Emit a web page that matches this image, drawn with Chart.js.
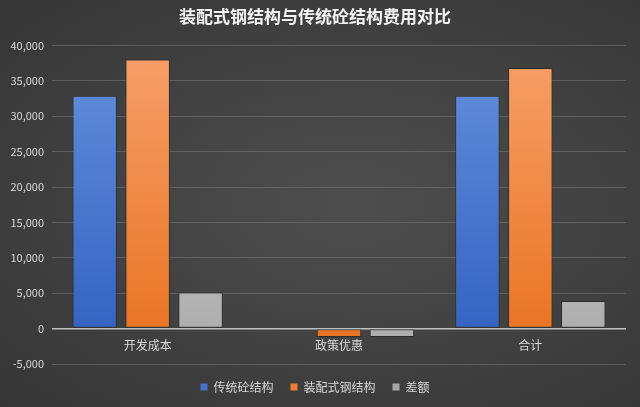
<!DOCTYPE html>
<html>
<head>
<meta charset="utf-8">
<script src="https://cdn.jsdelivr.net/npm/chart.js@4"></script>
<style>
  html, body { margin: 0; padding: 0; }
  body {
    width: 640px; height: 407px; overflow: hidden;
    background: radial-gradient(ellipse at 55% 50%, #4e4e4e 0%, #434343 45%, #353535 100%);
  }
  #chart { display: block; }
</style>
</head>
<body>
<canvas id="chart" width="640" height="407"></canvas>
<script>
const titleText = '装配式钢结构与传统砼结构费用对比';
const categories = ['开发成本', '政策优惠', '合计'];
const seriesNames = ['传统砼结构', '装配式钢结构', '差额'];
const concreteValues = [32900, 0, 32900];
const steelValues = [38000, -1200, 36800];
const diffValues = [5100, -1200, 3900];

const font = '"Microsoft YaHei", "Noto Sans CJK SC", sans-serif';

// vertical gradient over the plot area, lighter at top
function barGradient(top, bottom) {
    return ctx => {
        const area = ctx.chart.chartArea;
        if (!area) return bottom;
        const g = ctx.chart.ctx.createLinearGradient(0, area.top, 0, area.bottom);
        g.addColorStop(0, top);
        g.addColorStop(1, bottom);
        return g;
    };
}

new Chart(document.getElementById('chart'), {
    type: 'bar',
    data: {
        labels: categories,
        datasets: [
            { label: seriesNames[0], data: concreteValues, backgroundColor: barGradient('#6690dc', '#2e5ebf'), legendColor: '#4472c4' },
            { label: seriesNames[1], data: steelValues, backgroundColor: barGradient('#f7a06a', '#e8701c'), legendColor: '#ed7d31' },
            { label: seriesNames[2], data: diffValues, backgroundColor: barGradient('#d2d2d2', '#aaaaaa'), legendColor: '#a5a5a5' }
        ]
    },
    options: {
        responsive: false,
        animation: false,
        devicePixelRatio: 1,
        layout: { padding: { left: 4, right: 14, top: 2, bottom: 4 } },
        datasets: {
            bar: {
                categoryPercentage: 0.83,
                barPercentage: 0.84,
                borderColor: 'rgba(20,20,20,0.45)',
                borderWidth: 1,
                borderSkipped: false
            }
        },
        plugins: {
            title: {
                display: true,
                text: titleText,
                color: '#f2f2f2',
                font: { family: font, size: 17, weight: 'bold' },
                padding: { top: 4, bottom: 19 }
            },
            legend: {
                position: 'bottom',
                labels: {
                    color: '#d9d9d9',
                    font: { family: font, size: 12 },
                    boxWidth: 7,
                    boxHeight: 7,
                    padding: 17,
                    generateLabels: chart => chart.data.datasets.map((ds, i) => ({
                        text: ds.label,
                        fillStyle: ds.legendColor,
                        strokeStyle: ds.legendColor,
                        lineWidth: 0,
                        fontColor: '#d9d9d9',
                        datasetIndex: i
                    }))
                }
            },
            tooltip: { enabled: false }
        },
        scales: {
            x: {
                position: { y: 0 },
                grid: { display: false },
                border: { display: false },
                ticks: { color: '#d9d9d9', font: { family: font, size: 12 }, padding: 2 }
            },
            y: {
                min: -5000,
                max: 40000,
                afterFit: scale => { scale.width = 48; },
                ticks: {
                    stepSize: 5000,
                    color: '#d9d9d9',
                    font: { family: font, size: 11 },
                    padding: 8,
                    callback: v => v.toLocaleString('en-US')
                },
                grid: {
                    drawTicks: false,
                    color: ctx => ctx.tick && ctx.tick.value === 0 ? '#bfbfbf' : 'rgba(120,120,120,0.55)',
                    lineWidth: ctx => ctx.tick && ctx.tick.value === 0 ? 1.5 : 1
                },
                border: { display: false }
            }
        }
    }
});
</script>
</body>
</html>
